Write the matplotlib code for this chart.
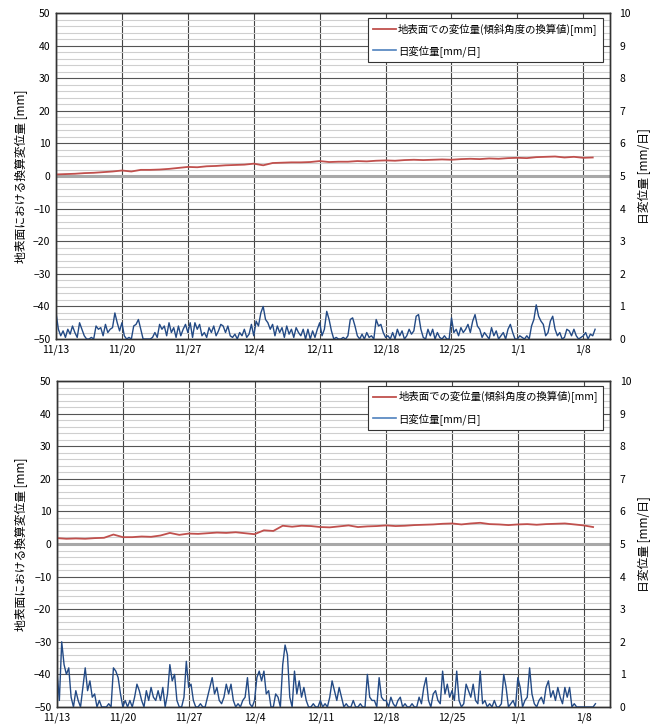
import numpy as np
import matplotlib
matplotlib.use("Agg")
import matplotlib.pyplot as plt

plt.rcParams['font.family'] = ['Noto Sans CJK JP', 'DejaVu Sans']

# x軸 (11/13からの日数)
tick_days = [0, 7, 14, 21, 28, 35, 42, 49, 56]
tick_labels = ["11/13", "11/20", "11/27", "12/4", "12/11", "12/18", "12/25", "1/1", "1/8"]

# 上段: 地表面での変位量 (日単位)
red_top = [0.5, 0.6, 0.7, 0.9, 1.0, 1.2, 1.4, 1.7, 1.4, 1.9,
           1.9, 2.0, 2.2, 2.5, 2.8, 2.7, 3.0, 3.1, 3.3, 3.4,
           3.5, 3.8, 3.3, 4.0, 4.1, 4.2, 4.2, 4.3, 4.6, 4.3,
           4.4, 4.4, 4.6, 4.5, 4.7, 4.8, 4.7, 4.9, 5.0, 4.9,
           5.0, 5.1, 5.0, 5.2, 5.3, 5.2, 5.4, 5.3, 5.5, 5.6,
           5.5, 5.8, 5.9, 6.0, 5.7, 5.9, 5.6, 5.7]

# 上段: 日変位量 (6時間ごと)
blue_top = [0.8, 0.3, 0.1, 0.25,  0.05, 0.3, 0.15, 0.4,  0.2, 0.05, 0.5, 0.3,
            0.1, 0.0, 0.0, 0.05,  0.0, 0.4, 0.3, 0.35,  0.1, 0.45, 0.2, 0.3,
            0.35, 0.8, 0.5, 0.25,  0.5, 0.1, 0.0, 0.05,  0.0, 0.4, 0.45, 0.6,
            0.3, 0.0, 0.0, 0.0,  0.0, 0.05, 0.2, 0.05,  0.45, 0.3, 0.4, 0.1,
            0.5, 0.2, 0.35, 0.05,  0.4, 0.1, 0.3, 0.45,  0.2, 0.5, 0.05, 0.5,
            0.3, 0.45, 0.1, 0.2,  0.05, 0.35, 0.2, 0.4,  0.1, 0.25, 0.45, 0.4,
            0.2, 0.4, 0.1, 0.05,  0.15, 0.0, 0.2, 0.1,  0.3, 0.05, 0.15, 0.45,
            0.1, 0.55, 0.4, 0.8,  1.0, 0.6, 0.5, 0.3,  0.45, 0.1, 0.4, 0.2,
            0.35, 0.05, 0.4, 0.15,  0.3, 0.05, 0.35, 0.2,  0.1, 0.3, 0.0, 0.3,
            0.0, 0.25, 0.05, 0.3,  0.5, 0.1, 0.3, 0.85,  0.6, 0.25, 0.0, 0.05,
            0.0, 0.0, 0.05, 0.0,  0.1, 0.6, 0.65, 0.4,  0.1, 0.0, 0.15, 0.0,
            0.2, 0.05, 0.1, 0.0,  0.6, 0.4, 0.45, 0.2,  0.05, 0.1, 0.0, 0.2,
            0.0, 0.3, 0.1, 0.25,  0.0, 0.1, 0.3, 0.15,  0.25, 0.7, 0.75, 0.3,
            0.05, 0.0, 0.3, 0.1,  0.3, 0.0, 0.2, 0.05,  0.0, 0.1, 0.0, 0.0,
            0.65, 0.2, 0.3, 0.1,  0.35, 0.2, 0.3, 0.45,  0.2, 0.55, 0.75, 0.4,
            0.3, 0.05, 0.2, 0.1,  0.0, 0.35, 0.1, 0.25,  0.0, 0.1, 0.2, 0.0,
            0.3, 0.45, 0.2, 0.0,  0.0, 0.1, 0.05, 0.0,  0.1, 0.0, 0.4, 0.6,
            1.05, 0.7, 0.55, 0.45,  0.1, 0.2, 0.55, 0.7,  0.3, 0.1, 0.2, 0.0,
            0.05, 0.3, 0.25, 0.1,  0.3, 0.1, 0.0, 0.05,  0.1, 0.2, 0.0, 0.15,
            0.1, 0.3]

# 下段: 地表面での変位量 (日単位)
red_bot = [1.8, 1.6, 1.7, 1.6, 1.8, 1.9, 2.9, 2.1, 2.1, 2.3,
           2.2, 2.6, 3.4, 2.8, 3.2, 3.1, 3.3, 3.5, 3.4, 3.6,
           3.3, 3.0, 4.2, 4.0, 5.6, 5.3, 5.6, 5.5, 5.2, 5.1,
           5.4, 5.7, 5.2, 5.4, 5.5, 5.7, 5.5, 5.6, 5.8, 5.9,
           6.0, 6.2, 6.3, 6.0, 6.3, 6.5, 6.1, 6.0, 5.8, 6.0,
           6.1, 5.9, 6.1, 6.2, 6.3, 6.0, 5.7, 5.2]

# 下段: 日変位量 (6時間ごと)
blue_bot = [1.1, 0.2, 2.0, 1.3,  1.0, 1.2, 0.3, 0.0,  0.5, 0.2, 0.0, 0.6,
            1.2, 0.5, 0.8, 0.3,  0.4, 0.0, 0.2, 0.0,  0.0, 0.0, 0.1, 0.0,
            1.2, 1.1, 0.9, 0.4,  0.0, 0.2, 0.0, 0.2,  0.0, 0.3, 0.7, 0.5,
            0.2, 0.0, 0.5, 0.2,  0.6, 0.3, 0.2, 0.5,  0.2, 0.6, 0.0, 0.4,
            1.3, 0.8, 1.0, 0.2,  0.0, 0.0, 0.3, 1.4,  0.6, 0.7, 0.2, 0.0,
            0.0, 0.1, 0.0, 0.0,  0.3, 0.6, 0.9, 0.4,  0.6, 0.2, 0.1, 0.3,
            0.7, 0.4, 0.7, 0.2,  0.0, 0.1, 0.0, 0.2,  0.3, 0.9, 0.1, 0.0,
            0.2, 0.9, 1.1, 0.8,  1.1, 0.4, 0.5, 0.0,  0.0, 0.4, 0.3, 0.0,
            1.3, 1.9, 1.6, 0.3,  0.0, 1.1, 0.4, 0.8,  0.3, 0.6, 0.2, 0.0,
            0.0, 0.1, 0.0, 0.0,  0.2, 0.0, 0.1, 0.0,  0.3, 0.8, 0.5, 0.2,
            0.6, 0.3, 0.0, 0.1,  0.0, 0.0, 0.2, 0.0,  0.0, 0.1, 0.0, 0.0,
            1.0, 0.3, 0.2, 0.2,  0.0, 0.9, 0.3, 0.2,  0.2, 0.0, 0.3, 0.1,
            0.0, 0.2, 0.3, 0.0,  0.1, 0.0, 0.0, 0.1,  0.0, 0.0, 0.3, 0.1,
            0.6, 0.9, 0.2, 0.0,  0.4, 0.5, 0.2, 0.1,  1.1, 0.4, 0.7, 0.3,
            0.5, 0.2, 1.1, 0.2,  0.0, 0.1, 0.7, 0.5,  0.3, 0.7, 0.2, 0.1,
            1.1, 0.1, 0.2, 0.0,  0.1, 0.0, 0.2, 0.0,  0.0, 0.1, 1.0, 0.6,
            0.0, 0.1, 0.2, 0.0,  0.9, 0.6, 0.0, 0.2,  0.3, 1.2, 0.4, 0.1,
            0.0, 0.2, 0.3, 0.1,  0.6, 0.8, 0.3, 0.5,  0.2, 0.6, 0.3, 0.1,
            0.6, 0.3, 0.6, 0.0,  0.1, 0.0, 0.0, 0.0,  0.0, 0.0, 0.0, 0.0,
            0.0, 0.1]

RED = '#C0504D'
BLUE = '#234A85'
lab_red = "地表面での変位量(傾斜角度の換算値)[mm]"
lab_blue = "日変位量[mm/日]"


def panel(ax, red, blue):
    xr = np.arange(len(red))
    xb = np.arange(len(blue)) / 4.0
    ax.set_xlim(0, 58.8)
    ax.set_ylim(-50, 50)
    ax.set_yticks(np.arange(-50, 51, 10))
    ax.set_yticks(np.arange(-50, 51, 2), minor=True)
    ax.set_xticks(tick_days)
    ax.set_xticklabels(tick_labels)
    ax.grid(which='minor', axis='y', color='#CFCFCF', lw=0.8)
    ax.grid(which='major', axis='y', color='#555555', lw=0.8)
    ax.grid(which='major', axis='x', color='#444444', lw=0.8)
    ax.axhline(0, color='#A8A8A8', lw=2.2, zorder=2)
    ax.tick_params(which='both', length=0, labelsize=7.5, pad=4)
    ax.set_ylabel("地表面における換算変位量 [mm]", fontsize=8.5, labelpad=4)
    l1, = ax.plot(xr, red, color=RED, lw=1.3, zorder=3)

    ax2 = ax.twinx()
    ax2.set_ylim(0, 10)
    ax2.set_yticks(np.arange(0, 11, 1))
    ax2.tick_params(length=0, labelsize=7.5, pad=7)
    ax2.set_ylabel("日変位量 [mm/日]", fontsize=8.5, labelpad=5)
    l2, = ax2.plot(xb, blue, color=BLUE, lw=1.0)
    for s in list(ax.spines.values()) + list(ax2.spines.values()):
        s.set_color('#333333')
        s.set_linewidth(1.0)

    h_blue = plt.Line2D([], [], color='#4F81BD', lw=1.2)
    leg = ax2.legend([l1, h_blue], [lab_red, lab_blue], loc='upper right',
                     bbox_to_anchor=(0.997, 1.0), fontsize=7.5, fancybox=False,
                     framealpha=1, edgecolor='#333333', handlelength=2.2,
                     borderpad=0.5, labelspacing=0.9, handletextpad=0.2)
    leg.get_frame().set_linewidth(0.8)


fig = plt.figure(figsize=(6.56, 7.26), dpi=100)
ax_top = fig.add_axes([0.0854, 0.533, 0.844, 0.449])
ax_bot = fig.add_axes([0.0869, 0.0262, 0.843, 0.449])
panel(ax_top, red_top, blue_top)
panel(ax_bot, red_bot, blue_bot)

plt.savefig("out.png", dpi=100)
